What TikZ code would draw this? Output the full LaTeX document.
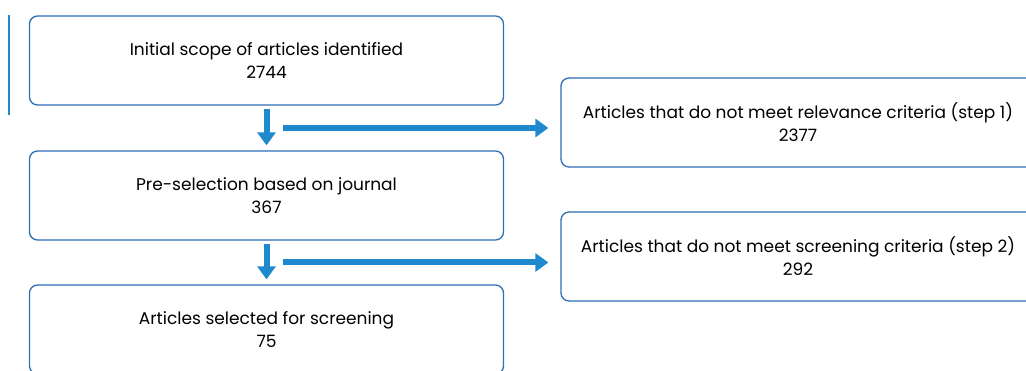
\documentclass[tikz,border=0pt]{standalone}
\usepackage{fontspec}
\setmainfont{Poppins}
\usetikzlibrary{arrows.meta,calc}
\definecolor{boxblue}{RGB}{46,112,180}
\definecolor{arrblue}{RGB}{30,137,204}

\begin{document}
\begin{tikzpicture}[x=1pt,y=-1pt]
\tikzset{etape/.style={draw=boxblue, line width=1.3pt, rounded corners=8pt, minimum width=474pt, minimum height=89pt, align=center, font=\fontsize{17}{23}\selectfont, inner sep=0pt}}
\tikzset{fleche/.style={draw=arrblue, line width=6pt, -{Triangle[width=18pt,length=13pt]}}}
\useasboundingbox (0,0) rectangle (1026,371);
\clip (0,0) rectangle (1026,371);
\fill[white] (0,0) rectangle (1026,371);
\draw[arrblue, line width=1.5pt] (9,15) -- (9,115);
\node[etape] (E1) at (266.5,60.5) {Initial scope of articles identified\\2744};
\node[etape] (E2) at (266.5,195.5) {Pre-selection based on journal\\367};
\node[etape] (E3) at (266.5,329.5) {Articles selected for screening\\75};
\node[etape] (R1) at (798,122.5) {Articles that do not meet relevance criteria (step 1)\\2377};
\node[etape] (R2) at (798,256.5) {Articles that do not meet screening criteria (step 2)\\292};
\coordinate (S1) at ($(E1.south)!0.5!(E2.north)+(16,0)$);
\coordinate (S2) at ($(E2.south)!0.5!(E3.north)+(16,0)$);
\draw[fleche, shorten <=3pt, shorten >=5pt] (E1.south) -- (E2.north);
\draw[fleche, shorten <=3pt, shorten >=5pt] (E2.south) -- (E3.north);
\draw[fleche, shorten >=12pt] (S1) -- (S1 -| R1.west);
\draw[fleche, shorten >=12pt] (S2) -- (S2 -| R2.west);
\end{tikzpicture}
\end{document}
